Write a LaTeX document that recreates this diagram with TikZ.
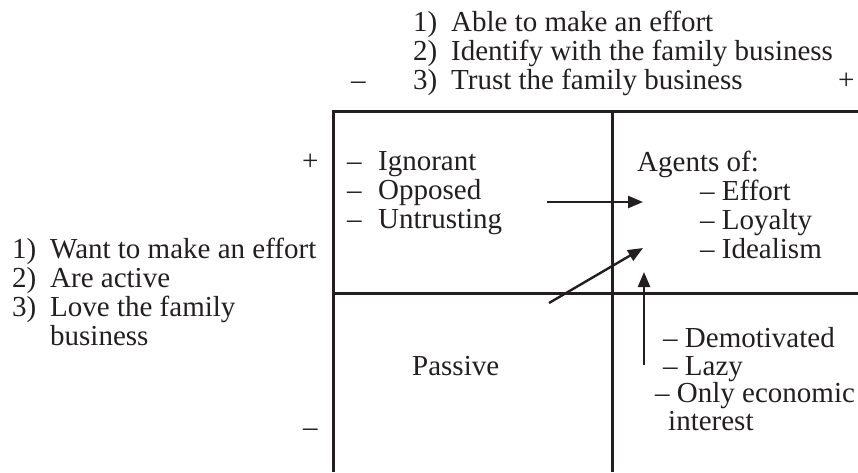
\documentclass[tikz,border=0pt]{standalone}
\usepackage{fontspec}
\setmainfont{Liberation Serif}
\usetikzlibrary{arrows.meta}
\definecolor{Ink}{HTML}{231F20}
\newcommand\numitem[2]{\makebox[38pt][l]{#1}#2}
\newcommand\dashitem[1]{\makebox[31pt][l]{–}#1}
\tikzset{
  txt/.style={font=\fontsize{29}{29}\selectfont,inner sep=0pt,anchor=base west,text=Ink},
  frame/.style={line width=3pt,draw=Ink,line join=miter},
  arrow/.style={-{Triangle[length=15pt,width=12pt]},line width=2.4pt,draw=Ink}
}
\begin{document}
\begin{tikzpicture}[x=1pt,y=-1pt]
\useasboundingbox (0,0) rectangle (858,472);
% quadrant frame
\draw[frame] (333,472) |- (858,111);
\draw[frame] (612,111) -- (612,472);
\draw[frame] (333,293) -- (858,293);
% top axis
\node[txt] (able) at (413,31) {\numitem{1)}{Able to make an effort}};
\node[txt] (identify) at (413,60) {\numitem{2)}{Identify with the family business}};
\node[txt] (trust) at (413,89) {\numitem{3)}{Trust the family business}};
\node[txt] (topminus) at (351,89) {–};
\node[txt] (topplus) at (838,89) {+};
% left axis
\node[txt] (want) at (12,258) {\numitem{1)}{Want to make an effort}};
\node[txt] (active) at (12,287) {\numitem{2)}{Are active}};
\node[txt] (love) at (12,316) {\numitem{3)}{Love the family}};
\node[txt] (business) at (50,345) {business};
\node[txt] (leftplus) at (302,170) {+};
\node[txt] (leftminus) at (303,436) {–};
% top left
\node[txt] (ignorant) at (347,170) {\dashitem{Ignorant}};
\node[txt] (opposed) at (347,199) {\dashitem{Opposed}};
\node[txt] (untrusting) at (347,228) {\dashitem{Untrusting}};
% top right
\node[txt] (agents) at (637,171) {Agents of:};
\node[txt] (effort) at (700,200) {– Effort};
\node[txt] (loyalty) at (700,229) {– Loyalty};
\node[txt] (idealism) at (700,258) {– Idealism};
% bottom
\node[txt] (passive) at (412,375) {Passive};
\node[txt] (demotivated) at (663,347) {– Demotivated};
\node[txt] (lazy) at (663,375) {– Lazy};
\node[txt] (economic) at (655,402) {– Only economic};
\node[txt] (interest) at (668,430) {interest};
% arrows
\coordinate (hstart) at (547,202);
\coordinate (hend) at (643,202);
\coordinate (dstart) at (549,303);
\coordinate (dend) at (643,248);
\coordinate (vstart) at (644,365);
\coordinate (vend) at (644,272);
\draw[arrow] (hstart) -- (hend);
\draw[arrow] (dstart) -- (dend);
\draw[arrow] (vstart) -- (vend);
\end{tikzpicture}
\end{document}
